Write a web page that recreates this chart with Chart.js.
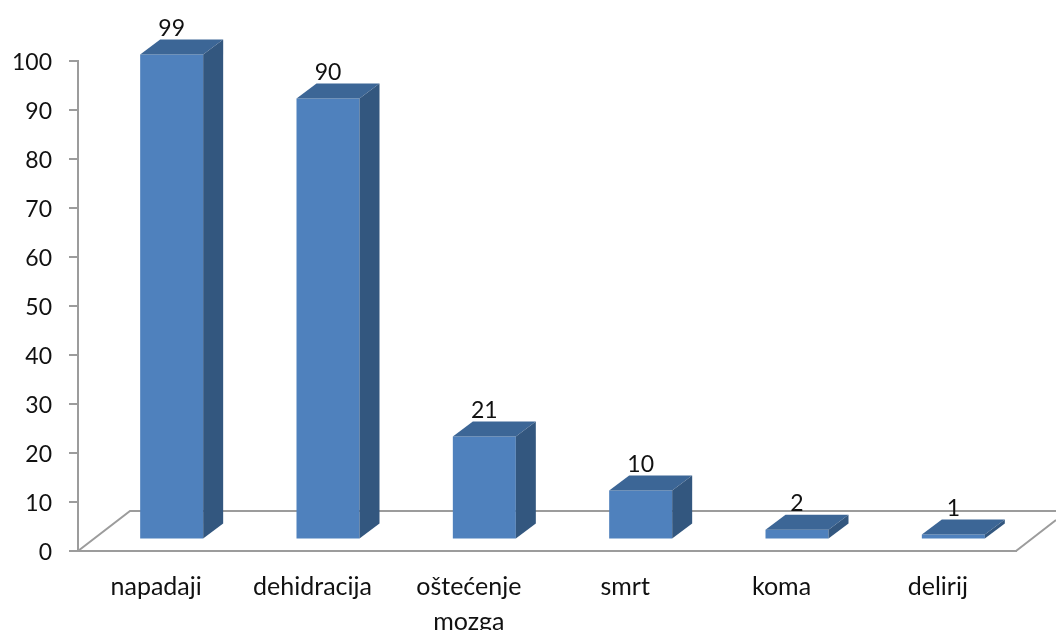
<!DOCTYPE html>
<html>
<head>
<meta charset="utf-8">
<style>
    body { margin: 0; background: #fff; }
    canvas { display: block; }
</style>
<script src="https://cdn.jsdelivr.net/npm/chart.js@4"></script>
</head>
<body>
<canvas id="chart" width="1056" height="630"></canvas>
<script>
const categories = ['napadaji', 'dehidracija', ['oštećenje', 'mozga'], 'smrt', 'koma', 'delirij'];
const values = [99, 90, 21, 10, 2, 1];
const yTicks = [0, 10, 20, 30, 40, 50, 60, 70, 80, 90, 100];

const GREY = '#9c9c9c';
const FONT = 'Lato, "Open Sans", sans-serif';

// fake 3d: floor lines, then the bars moved back onto the floor with top and side faces
const fake3d = {
    id: 'fake3d',
    beforeDatasetsDraw(chart) {
        const { ctx, chartArea: a } = chart;
        ctx.save();
        ctx.strokeStyle = GREY;
        ctx.lineWidth = 2;
        ctx.beginPath();
        ctx.moveTo(a.left, a.bottom);
        ctx.lineTo(a.left + 52, a.bottom - 40);
        ctx.lineTo(1056, a.bottom - 40);
        ctx.moveTo(a.right, a.bottom);
        ctx.lineTo(1056, a.bottom - 31);
        ctx.stroke();
        ctx.translate(15.5, -11.5);
    },
    afterDatasetsDraw(chart) {
        const { ctx } = chart;
        const dx = 20, dy = 15;
        chart.getDatasetMeta(0).data.forEach((bar, i) => {
            const l = bar.x - bar.width / 2, r = bar.x + bar.width / 2;
            ctx.fillStyle = '#3c6696';
            ctx.beginPath();
            ctx.moveTo(l, bar.y);
            ctx.lineTo(l + dx, bar.y - dy);
            ctx.lineTo(r + dx, bar.y - dy);
            ctx.lineTo(r, bar.y);
            ctx.closePath();
            ctx.fill();
            ctx.fillStyle = '#33577f';
            ctx.beginPath();
            ctx.moveTo(r, bar.y);
            ctx.lineTo(r + dx, bar.y - dy);
            ctx.lineTo(r + dx, bar.base - dy);
            ctx.lineTo(r, bar.base);
            ctx.closePath();
            ctx.fill();
            ctx.fillStyle = '#111';
            ctx.font = '23px ' + FONT;
            ctx.textAlign = 'center';
            ctx.textBaseline = 'middle';
            ctx.fillText(values[i], bar.x, bar.y - 26);
        });
        ctx.restore();
    }
};

new Chart(document.getElementById('chart'), {
    type: 'bar',
    data: {
        labels: categories,
        datasets: [{
            data: values,
            backgroundColor: '#4f81bd',
            barPercentage: 0.403,
            categoryPercentage: 1,
            clip: false
        }]
    },
    options: {
        responsive: false,
        animation: false,
        layout: { padding: { top: 61, right: 40 } },
        plugins: { legend: { display: false }, tooltip: { enabled: false } },
        scales: {
            x: {
                afterFit(scale) { scale.height = 79; },
                grid: { drawOnChartArea: false, drawTicks: false },
                border: { color: GREY, width: 2 },
                ticks: { color: '#111', padding: 19, maxRotation: 0, autoSkip: false, font: { family: FONT, size: 25, lineHeight: 1.38 } }
            },
            y: {
                min: 0,
                max: 100,
                afterFit(scale) { scale.width = 78; },
                afterBuildTicks(scale) { scale.ticks = yTicks.map(v => ({ value: v })); },
                grid: { drawOnChartArea: false, tickLength: 9, color: GREY, lineWidth: 2 },
                border: { color: GREY, width: 2 },
                ticks: { color: '#111', padding: 17, labelOffset: 2, font: { family: FONT, size: 23 } }
            }
        }
    },
    plugins: [fake3d]
});
</script>
</body>
</html>
